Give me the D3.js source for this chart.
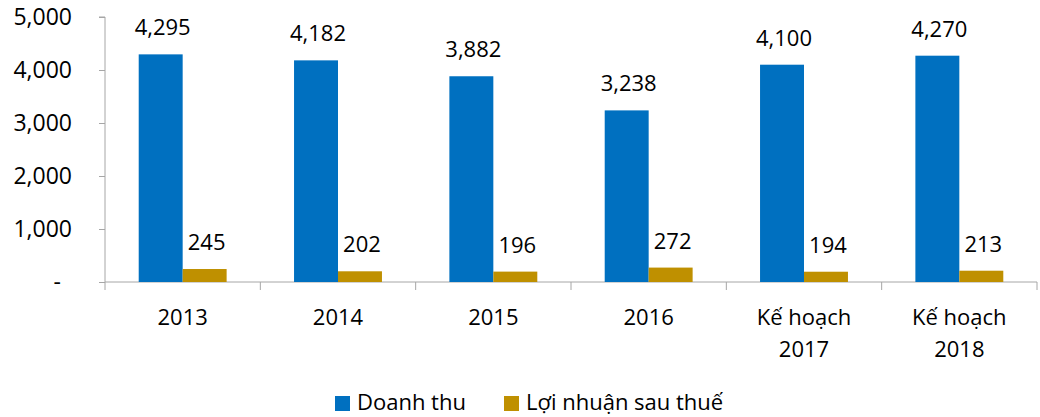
<!DOCTYPE html>
<html>
<head>
<meta charset="utf-8">
<script src="https://cdn.jsdelivr.net/npm/d3@7"></script>
<style>
  body { margin: 0; background: #fff; }
  text { font-family: "Open Sans", "Noto Sans", sans-serif; fill: #000; }
</style>
</head>
<body>
<div id="chart"></div>
<script>
// chart data
const categories = ["2013", "2014", "2015", "2016", "Kế hoạch\n2017", "Kế hoạch\n2018"];
const seriesNames = ["Doanh thu", "Lợi nhuận sau thuế"];
const doanhThu = [4295, 4182, 3882, 3238, 4100, 4270];
const loiNhuan = [245, 202, 196, 272, 194, 213];
const yTicks = [0, 1000, 2000, 3000, 4000, 5000];
const colors = ["#0070C0", "#BF9000"];

const rows = categories.map((c, i) => ({ group: c, values: [doanhThu[i], loiNhuan[i]] }));

const margin = { top: 17, right: 3, bottom: 135, left: 105 };
const width = 1040 - margin.left - margin.right,
    height = 417 - margin.top - margin.bottom;

const svg = d3.select("#chart").append("svg")
    .attr("width", 1040)
    .attr("height", 417)
    .append("g")
    .attr("transform", "translate(" + margin.left + "," + margin.top + ")");

// scales
const x = d3.scaleBand()
    .domain(categories)
    .range([0, width])
    .padding(0);

const xSub = d3.scaleBand()
    .domain(seriesNames)
    .range([x.bandwidth() * 0.217, x.bandwidth() * 0.783])
    .padding(0);

const y = d3.scaleLinear()
    .domain([0, 5000])
    .range([height, 0]);

const fmt = d3.format(",");

// y axis
const yAxis = svg.append("g")
    .call(d3.axisLeft(y).tickValues(yTicks).tickSize(6).tickPadding(27)
        .tickFormat(d => d === 0 ? "-" : fmt(d)));
yAxis.selectAll("text").style("font-size", "23px");
yAxis.selectAll(".tick").filter(d => d === 0).select("text").attr("dx", -11);
yAxis.select(".domain").attr("stroke", "#a6a6a6").attr("d", "M0," + height + "V0H-6");
yAxis.selectAll(".tick line").attr("stroke", "#a6a6a6");

// x axis
const xAxis = svg.append("g")
    .attr("transform", "translate(0," + height + ")")
    .call(d3.axisBottom(x).tickSize(0).tickFormat(""));
xAxis.select(".domain").attr("stroke", "#a6a6a6").attr("d", "M0,0H" + width);
xAxis.selectAll(".boundary")
    .data(d3.range(categories.length + 1))
    .enter().append("line")
    .attr("x1", i => i * x.step())
    .attr("x2", i => i * x.step())
    .attr("y1", 0)
    .attr("y2", 8)
    .attr("stroke", "#a6a6a6");

// category labels (multi-line)
const catLabels = svg.append("g").selectAll("text")
    .data(categories)
    .enter().append("text")
    .attr("text-anchor", "middle")
    .attr("x", d => x(d) + x.bandwidth() / 2)
    .attr("y", height + 43)
    .style("font-size", "22px");
catLabels.selectAll("tspan")
    .data(d => d.split("\n"))
    .enter().append("tspan")
    .attr("x", function() { return d3.select(this.parentNode).attr("x"); })
    .attr("dy", (d, i) => i === 0 ? 0 : 32)
    .text(d => d);

// bars
const groups = svg.append("g").selectAll("g")
    .data(rows)
    .enter().append("g")
    .attr("transform", d => "translate(" + x(d.group) + ",0)");

const cells = groups.selectAll("g")
    .data(d => d.values.map((v, i) => ({ key: seriesNames[i], value: v, idx: i })))
    .enter().append("g");

cells.append("rect")
    .attr("x", d => xSub(d.key))
    .attr("y", d => y(d.value))
    .attr("width", xSub.bandwidth())
    .attr("height", d => height - y(d.value))
    .attr("fill", d => colors[d.idx]);

cells.append("text")
    .attr("text-anchor", "middle")
    .attr("x", d => xSub(d.key) + xSub.bandwidth() / 2 + 2)
    .attr("y", d => y(d.value) - 19)
    .style("font-size", "22px")
    .text(d => fmt(d.value));

// legend
const legend = svg.append("g")
    .attr("transform", "translate(" + (335 - margin.left) + "," + (396 - margin.top) + ")");
const legendX = [0, 169];
const li = legend.selectAll("g")
    .data(seriesNames)
    .enter().append("g")
    .attr("transform", (d, i) => "translate(" + legendX[i] + ",0)");
li.append("rect")
    .attr("width", 15)
    .attr("height", 15)
    .attr("fill", (d, i) => colors[i]);
li.append("text")
    .attr("x", 22)
    .attr("y", 14)
    .style("font-size", "22px")
    .text(d => d);
</script>
</body>
</html>
